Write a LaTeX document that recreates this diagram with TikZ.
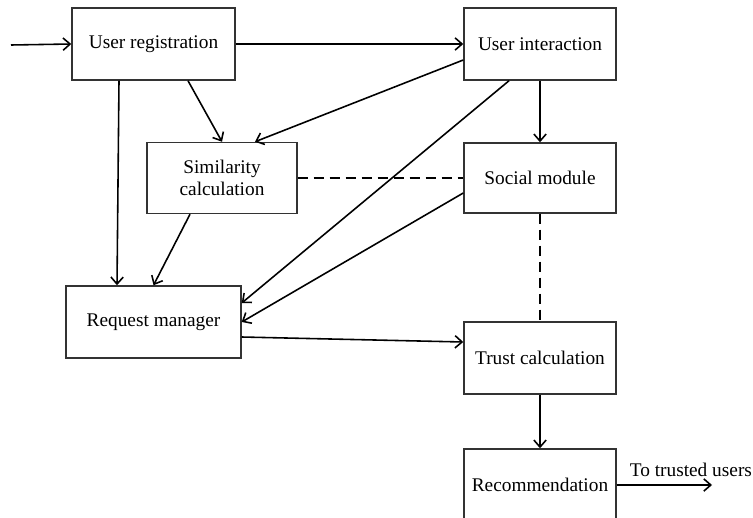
\documentclass[tikz,border=0pt]{standalone}
\usepackage{fontspec}
\setmainfont{Liberation Serif}
\usetikzlibrary{arrows.meta,calc}

\tikzset{
  blk/.style={draw=black!80, line width=0.85pt, fill=white, align=center,
    inner sep=0pt, font=\fontsize{11}{12.5}\selectfont},
  flow/.style={->, line width=0.9pt},
  link/.style={line width=0.9pt, dash pattern=on 5.7pt off 3.4pt}
}

\begin{document}
\begin{tikzpicture}[x=0.02cm, y=0.02cm, >={Straight Barb[length=4pt,width=7pt]}]
\useasboundingbox (0,0) rectangle (753,-517);

% blocks
\node[blk, minimum width=3.26cm, minimum height=1.44cm] (ureg)  at (153.5,-44) {User registration};
\node[blk, minimum width=3.04cm, minimum height=1.44cm] (uint)  at (540,-44)   {User interaction};
\node[blk, minimum width=3.0cm,  minimum height=1.42cm] (sim)   at (222,-178)  {Similarity\\calculation};
\node[blk, minimum width=3.04cm, minimum height=1.40cm] (soc)   at (540,-178)  {Social module};
\node[blk, minimum width=3.5cm,  minimum height=1.44cm] (rm)    at (153.5,-322) {Request manager};
\node[blk, minimum width=3.04cm, minimum height=1.44cm] (trust) at (540,-358)  {Trust calculation};
\node[blk, minimum width=3.04cm, minimum height=1.44cm] (rec)   at (540,-485)  {Recommendation};

% input and output
\coordinate (in)  at (11,-45);
\coordinate (out) at (712,-485);
\draw[flow] (in) -- (ureg.west);
\draw[flow] (rec.east) -- (out);
\node[anchor=south west, inner sep=1pt, font=\fontsize{11}{12.5}\selectfont] (lbl)
  at ($(rec.east)+(11,6)$) {To trusted users};

% solid flows
\draw[flow] (ureg.east) -- (uint.west);
\draw[flow] ($(ureg.south)+(-34.5,0)$) -- ($(rm.north)+(-36.5,0)$);
\draw[flow] ($(ureg.south)+(34.5,0)$) -- (sim.north);
\draw[flow] ($(uint.west)+(0,-16)$) -- ($(sim.north)+(33,0)$);
\draw[flow] ($(uint.south)+(-31,0)$) -- ($(rm.east)+(0,19)$);
\draw[flow] ($(sim.south)+(-32,0)$) -- (rm.north);
\draw[flow] ($(soc.west)+(0,-15)$) -- (rm.east);
\draw[flow] (uint.south) -- (soc.north);
\draw[flow] ($(rm.east)+(0,-15)$) -- ($(trust.west)+(0,16)$);
\draw[flow] (trust.south) -- (rec.north);

% dashed links
\draw[link] (sim.east) -- (soc.west);
\draw[link] (soc.south) -- (trust.north);
\end{tikzpicture}
\end{document}
